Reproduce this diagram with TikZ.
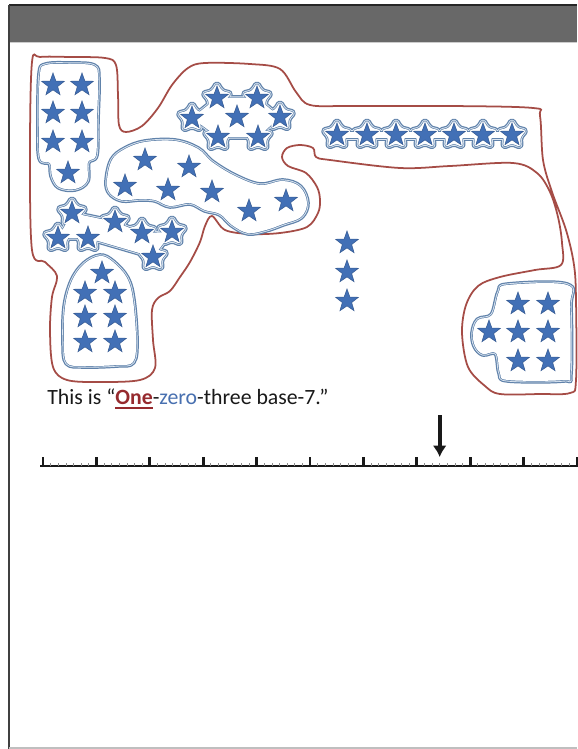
\documentclass[tikz,border=0pt]{standalone}
\usepackage{fontspec}
\setmainfont{Carlito}
\usetikzlibrary{shapes.geometric,arrows.meta}

\definecolor{starblue}{RGB}{66,112,182}
\definecolor{ringblue}{RGB}{96,130,170}
\definecolor{ringlight}{RGB}{222,232,243}
\definecolor{bagred}{RGB}{165,76,70}
\definecolor{headgray}{RGB}{104,104,104}
\definecolor{onered}{RGB}{150,42,46}
\definecolor{zeroblue}{RGB}{72,112,176}
\newcommand{\undermark}[1]{\setbox0=\hbox{#1}\rlap{\rule[-2.6pt]{\wd0}{0.9pt}}\box0}

\begin{document}
\begin{tikzpicture}[x=0.02cm, y=-0.02cm, >=latex]

% --- Styles ---
\tikzset{
    bstar/.style={star, star points=5, star point ratio=2.45, minimum size=0.48cm,
        inner sep=0pt, fill=starblue, draw=starblue!80!black, line width=0.3pt},
    halo/.style={star, star points=5, star point ratio=1.75, minimum size=0.6cm,
        inner sep=0pt, rounded corners=1.5pt},
    ringA/.style={draw=ringblue, line width=3.2pt, line join=round},
    ringB/.style={draw=ringlight, line width=1.8pt, line join=round},
    ringC/.style={draw=ringblue, line width=0.8pt, line join=round},
    ringD/.style={fill=white},
    bag/.style={draw=bagred, line width=1pt},
    numline/.style={line width=1.7pt, black!90},
    major/.style={line width=1.6pt, black!90},
    minor/.style={line width=0.4pt, black!45},
    pointer/.style={-{Latex[length=6.5pt,width=8pt]}, line width=2.4pt, black!90}
}

\useasboundingbox (0,0) rectangle (577,749);

% --- Slide frame ---
\fill[white] (0,0) rectangle (577,749);
\fill[headgray] (9,5) rectangle (577,42);
\draw[black!85, line width=1.2pt] (9,5) -- (577,5);
\draw[black!20, line width=0.6pt] (10,42.5) -- (577,42.5);
\draw[black!75, line width=1.6pt] (9,5) -- (9,749);
\draw[black!25, line width=0.8pt] (9,748) -- (577,748);

% --- Red bag round the seven sevens ---
\draw[bag] plot[smooth cycle, tension=0.55] coordinates {
    (32,62) (40,57) (70,57) (105,58) (116,65) (118,95) (119,125) (126,132)
    (142,126) (158,108) (172,85) (188,68) (205,63) (250,64) (280,69) (296,92)
    (310,105) (350,106) (450,106) (533,108) (540,116) (543,160) (552,192)
    (566,230) (574,265) (576,300) (576,380) (570,393) (540,394) (500,394)
    (485,386) (468,367) (462,333) (466,305) (478,286) (500,277) (535,270)
    (561,265) (562,243) (558,217) (550,192) (537,173) (513,163) (450,166)
    (400,168) (330,160) (316,157) (313,148) (300,145) (287,148) (282,157)
    (288,166) (306,173) (317,187) (320,200) (318,213) (307,227) (280,233)
    (250,234) (225,230) (212,216) (205,226) (200,242) (190,262) (180,277)
    (170,291) (158,298) (152,310) (153,340) (155,368) (140,380) (100,382)
    (67,380) (53,367) (50,330) (52,297) (57,276) (45,262) (32,250) (30,150)};

% --- Blue rings, drawn in four passes (outer line, light core, inner line, white fill) ---
\foreach \pass in {ringA,ringB,ringC,ringD} {
    % top left bundle
    \path[\pass] plot[smooth cycle, tension=0.6] coordinates {
        (40,74) (46,65) (70,64) (94,66) (98,79) (97,120) (96,155) (88,162)
        (87,181) (75,189) (59,187) (52,176) (50,163) (40,158) (39,120)};
    % long middle bundle
    \path[\pass] plot[smooth cycle, tension=0.6] coordinates {
        (107,181) (112,160) (125,149) (145,142) (175,141) (198,149) (212,162)
        (235,176) (260,185) (283,181) (300,187) (307,203) (301,217) (283,224)
        (266,230) (248,233) (232,225) (220,214) (205,210) (190,203) (170,206)
        (155,200) (140,199) (122,200) (110,193)};
    % arch bundle
    \path[\pass] plot[smooth cycle, tension=0.6] coordinates {
        (100,256) (84,264) (72,281) (65,307) (64,343) (67,363) (84,366)
        (117,365) (133,362) (136,340) (133,300) (127,278) (113,262)};
    % bottom right bundle
    \path[\pass] plot[smooth cycle, tension=0.6] coordinates {
        (478,320) (492,315) (499,292) (508,285) (567,285) (570,307) (570,373)
        (563,380) (508,380) (500,373) (496,353) (483,354) (475,346) (473,333)};
    % spiky bundles: star halos with a filler between the centres
    \foreach \x/\y in {217/98, 257/98, 192/118, 237/117, 280/117, 218/137, 258/137,
                       72/213, 58/238, 88/238, 115/222, 142/233, 172/232, 153/257,
                       337/135, 367/135, 396/135, 425/135, 454/135, 483/135, 512/135}
        \node[halo,\pass] at (\x,\y) {};
    \path[\pass] (192,118) -- (217,98) -- (257,98) -- (280,117) -- (258,137) -- (218,137) -- cycle;
    \path[\pass] (72,213) -- (115,222) -- (142,233) -- (172,232) -- (153,257) -- (88,238) -- (58,238) -- cycle;
    \path[\pass] (337,132) rectangle (512,138);
}

% --- Stars ---
\foreach \x/\y [count=\i] in {53/85, 82/85, 53/113, 82/113, 53/142, 82/142, 68/173}
    \node[bstar] (a\i) at (\x,\y) {};
\foreach \x/\y [count=\i] in {217/98, 257/98, 192/118, 237/117, 280/117, 218/137, 258/137}
    \node[bstar] (b\i) at (\x,\y) {};
\foreach \x/\y [count=\i] in {145/160, 189/167, 125/186, 168/190, 212/192, 249/211, 286/201}
    \node[bstar] (c\i) at (\x,\y) {};
\foreach \x/\y [count=\i] in {72/213, 58/238, 88/238, 115/222, 142/233, 172/232, 153/257}
    \node[bstar] (d\i) at (\x,\y) {};
\foreach \x/\y [count=\i] in {102/273, 85/293, 115/293, 85/317, 115/317, 85/342, 115/342}
    \node[bstar] (e\i) at (\x,\y) {};
\foreach \x/\y [count=\i] in {337/135, 367/135, 396/135, 425/135, 454/135, 483/135, 512/135}
    \node[bstar] (f\i) at (\x,\y) {};
\foreach \x/\y [count=\i] in {518/304, 548/304, 489/332, 518/332, 548/332, 518/361, 548/361}
    \node[bstar] (g\i) at (\x,\y) {};
\foreach \y [count=\i] in {243, 272, 301}
    \node[bstar] (loose\i) at (347,\y) {};

% --- Caption ---
\node[anchor=base west, inner sep=0pt, text=black!90,
      font=\fontsize{12.4pt}{15pt}\selectfont] (caption) at (47,404)
    {This is “\textcolor{onered}{\undermark{\textbf{One}}}-\textcolor{zeroblue}{zero}-three base-7.”};

% --- Number line ---
\coordinate (start) at (40,466);
\coordinate (stop) at (577,466);
\draw[numline] (start) -- (stop);
\foreach \k in {1,...,69}
    \draw[minor] ({43+\k*53.4/7},466) -- ++(0,-3);
\foreach \i in {0,...,10}
    \draw[major] ({43+\i*53.4},467) -- ++(0,-10);

% --- Pointer at 52 ---
\coordinate (fiftytwo) at ({43+52*53.4/7},457);
\coordinate (pointtop) at ({43+52*53.4/7},415);
\draw[pointer] (pointtop) -- (fiftytwo);

\end{tikzpicture}
\end{document}
